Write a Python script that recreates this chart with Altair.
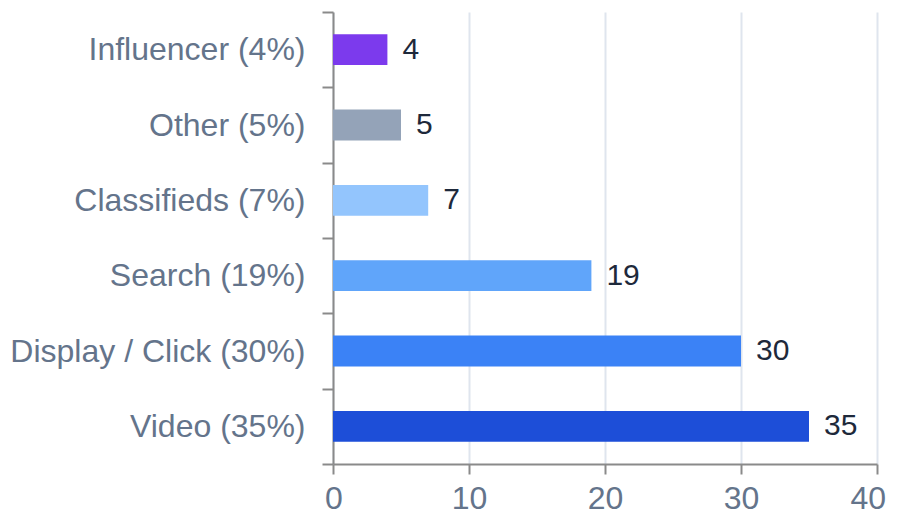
import altair as alt
import pandas as pd

categories = ["Influencer (4%)", "Other (5%)", "Classifieds (7%)", "Search (19%)",
              "Display / Click (30%)", "Video (35%)"]
values = [4, 5, 7, 19, 30, 35]
colors = ["#7c3aed", "#94a3b8", "#93c5fd", "#60a5fa", "#3b82f6", "#1d4ed8"]
x_ticks = [0, 10, 20, 30, 40]

df = pd.DataFrame({"channel": categories, "value": values, "color": colors})

FONT = "Liberation Sans"
W, H = 544, 452

y_enc = alt.Y(
    "channel:N",
    sort=categories,
    scale=alt.Scale(paddingInner=0, paddingOuter=0),
    axis=alt.Axis(
        title=None,
        tickBand="extent",
        labelFont=FONT,
        labelFontSize=32,
        labelLimit=500,
        labelColor="#64748b",
        labelPadding=17,
        tickSize=11,
        tickColor="#8a8a8a",
        tickWidth=2,
        domainColor="#8a8a8a",
        domainWidth=2,
        grid=False,
    ),
)

x_enc = alt.X(
    "value:Q",
    scale=alt.Scale(domain=[0, 40], nice=False),
    axis=alt.Axis(
        title=None,
        values=x_ticks,
        labelFlush=True,
        labelFlushOffset=8.5,
        labelFont=FONT,
        labelFontSize=32,
        labelColor="#64748b",
        labelPadding=9,
        tickSize=10,
        tickColor="#8a8a8a",
        tickWidth=2,
        domainColor="#8a8a8a",
        domainWidth=2,
        grid=True,
        gridColor="#dfe5ee",
        gridWidth=2,
    ),
)

bars = alt.Chart(df).mark_bar(height={"band": 0.41}).encode(
    x=x_enc,
    y=y_enc,
    color=alt.Color("color:N", scale=None, legend=None),
)

labels = alt.Chart(df).mark_text(
    align="left", baseline="middle", dx=15, font=FONT, fontSize=30, color="#1e293b"
).encode(
    x=alt.X("value:Q"),
    y=alt.Y("channel:N", sort=categories),
    text=alt.Text("value:Q"),
)

chart = alt.layer(bars, labels).properties(
    width=W,
    height=H,
    autosize=alt.AutoSizeParams(type="none"),
    padding={"left": 325, "top": 4, "right": 12, "bottom": 51},
).configure_view(stroke=None)

chart.save("out.html", embed_options={"renderer": "svg", "actions": False})
